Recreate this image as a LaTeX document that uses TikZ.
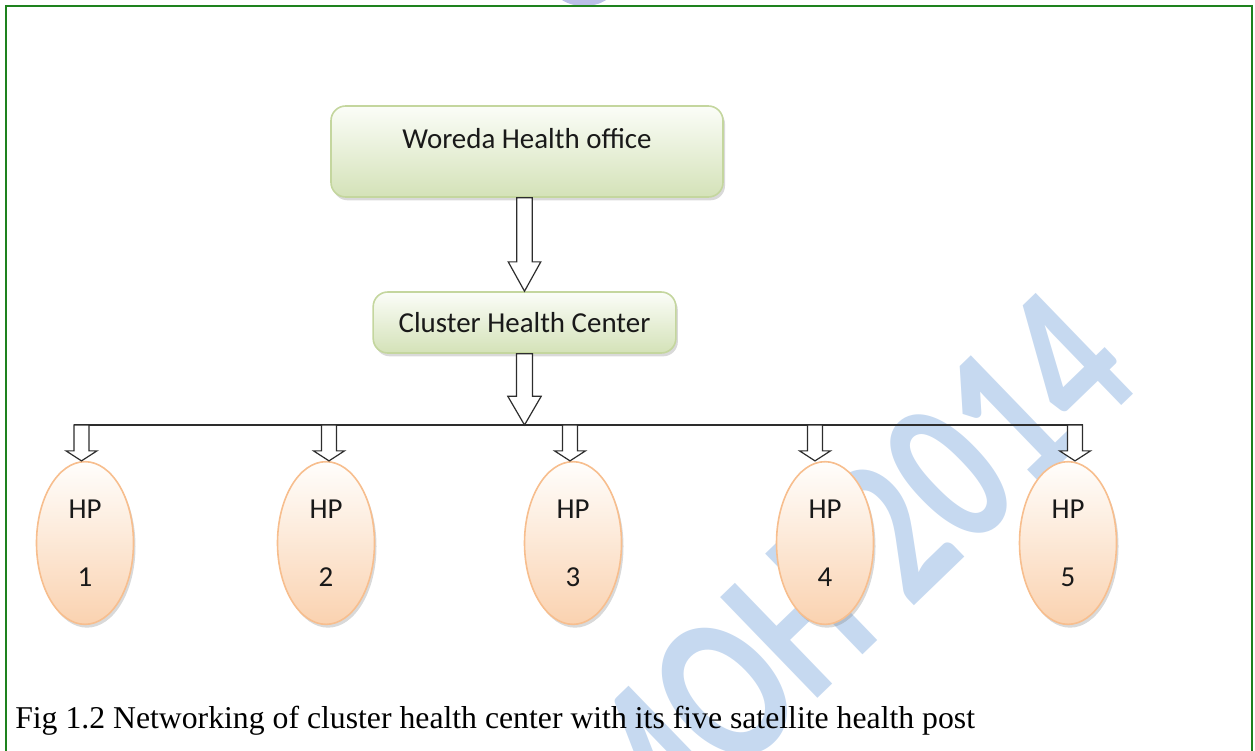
\documentclass[tikz,border=0pt]{standalone}
\usepackage{fontspec}
\setmainfont{Liberation Serif}
\newfontfamily\boxfont{Carlito}
\usepackage{tikz}
\usetikzlibrary{shapes.geometric, shadows, calc}
\definecolor{frameG}{RGB}{30,130,30}
\definecolor{boxTop}{RGB}{251,253,248}
\definecolor{boxBot}{RGB}{212,226,184}
\definecolor{boxLine}{RGB}{196,214,158}
\definecolor{hpTop}{RGB}{255,254,252}
\definecolor{hpBot}{RGB}{250,210,176}
\definecolor{hpLine}{RGB}{247,190,142}
\definecolor{markB}{RGB}{198,217,240}
\definecolor{sealB}{RGB}{60,70,190}
\definecolor{arrowK}{RGB}{45,45,45}
\tikzset{
  greenbox/.style={draw=boxLine, line width=1.2pt, rounded corners=11pt,
    top color=boxTop, bottom color=boxBot, inner sep=0pt, text=black!90,
    font=\boxfont\fontsize{21.7}{26}\selectfont,
    drop shadow={shadow xshift=1.5pt, shadow yshift=-2.5pt, opacity=0.3}},
  hpnode/.style={ellipse, draw=hpLine, line width=1.2pt, top color=hpTop,
    bottom color=hpBot, minimum width=72.75pt, minimum height=122pt,
    inner sep=0pt, align=center, text=black!90,
    font=\boxfont\fontsize{21.7}{51}\selectfont,
    drop shadow={shadow xshift=1.5pt, shadow yshift=-2.5pt, opacity=0.3}},
  hollow/.style={draw=arrowK, line width=0.9pt, fill=white, line join=miter},
  busline/.style={draw=arrowK, line width=1.1pt}}
% hollow block arrow: from, to, shaft half width, head half width, head length
\newcommand{\hollowarrow}[5]{%
  \draw[hollow] let \p1=(#1), \p2=(#2) in
    (\x1-#3,\y1) -- (\x1-#3,\y2+#5) -- (\x1-#4,\y2+#5) -- (\x1,\y2)
    -- (\x1+#4,\y2+#5) -- (\x1+#3,\y2+#5) -- (\x1+#3,\y1) -- cycle;}

\begin{document}
\begin{tikzpicture}[x=0.75pt, y=-0.75pt]
\useasboundingbox (0,0) rectangle (1255,750);
% watermark and page frame
\node[rotate=44, yscale=1.35, inner sep=0pt, text=markB,
  font=\boxfont\bfseries\fontsize{120}{120}\selectfont]
  (mark) at (840,580) {MOH 2014};
\fill[sealB!35] (584,-14) ellipse (31 and 20);
\draw[frameG, line width=1.5pt] (6,760) -- (6,6) -- (1252,6) -- (1252,760);

% top of the tree
\node[greenbox, minimum width=294pt, minimum height=68.25pt, text depth=20pt]
  (woreda) at (527,151.5) {Woreda Health office};
\node[greenbox, minimum width=227pt, minimum height=45.75pt]
  (cluster) at (524.5,322.5) {Cluster Health Center};
\coordinate (bus) at (526,425);

% health posts
\foreach \i/\cx/\tx in {1/85/81.5, 2/326/329, 3/573/570, 4/825/815, 5/1068/1075}{
  \node[hpnode, text depth=-4.5pt] (hp\i) at (\cx,543) {HP\\\i};
  \coordinate (tap\i) at (\tx,425);
}
\draw[busline] ($(tap1)+(-7.5,0)$) -- ($(tap5)+(7.5,0)$);

% arrows
\hollowarrow{cluster.north |- woreda.south}{cluster.north}{5.8pt}{12.2pt}{22pt}
\hollowarrow{cluster.south}{bus}{6pt}{12.5pt}{21.5pt}
\foreach \i in {1,...,5}{
  \hollowarrow{tap\i}{hp\i.north}{5.6pt}{11.6pt}{7.5pt}
}

\node[anchor=base west, inner sep=0pt, font=\fontsize{23.8}{28}\selectfont]
  (caption) at (15,728) {Fig 1.2 Networking of cluster health center with its five satellite health post};
\end{tikzpicture}
\end{document}
